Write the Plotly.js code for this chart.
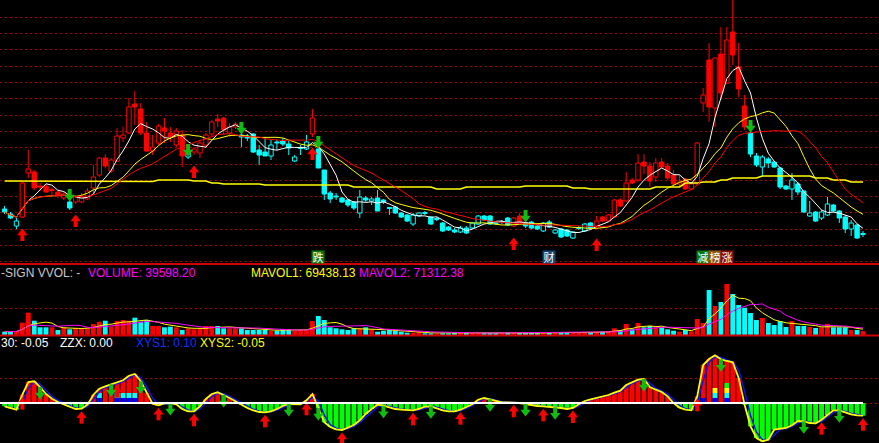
<!DOCTYPE html>
<html><head><meta charset="utf-8">
<script src="https://cdn.plot.ly/plotly-3.0.1.min.js"></script>
<style>html,body{margin:0;padding:0;background:#000;overflow:hidden}#chart{width:879px;height:443px}</style>
</head><body><div id="chart"></div>
<script>
// ---------------- DATA ----------------
const openP = [56,51,39,48,92,93,79,79,74.5,73, 67,63,63,63,66,77,90,107,94,104, 127,132,161,156,132,114,122,137,132,120,
 130,108,113,112,120,131,146,147,132,138, 130,129,131,115,113,109,123,124,121,104, 116.5,116,131,116,95,72,69,67,65,63,
 52,67,64,67,65,57.5,58,52,50,41, 49,52.5,48,45.5,42,38,35,33,37,37, 41,49,49,42.5,42.5,47,39,49,42,43,
 39,34,43,32,36,35,27,36.5,34,42, 39,48,44,48,65,64,85,85,103,99, 88,103,99,90,81,86,76,81,162,205,
 157,211,182,233,198,159,132,109,98,106, 103,97,79,76,81,74,49,53,47,50, 60,54,48,36,40,30.5];
const closeP = [53,47,44,82,96,77,78,73,75.5,70, 71,57,68,68,74,88,107,99,105,129, 130,158,158,132,114,118,139,134,128,134,
 109,112,116,122,130,143,144,135,138,141, 128,127,113,110,109,120,122,121,117,108, 117.5,123,147,97,71,66,68,63,60,57,
 68,65,66,54,63,56.5,52,48,44,50, 52,51.5,41,46.5,34,35,33,37,32,42, 49,45,41,41.5,43.5,40,47,43,39,37,
 36,42,38,35,28,29,33,37.5,41,37, 44,44,50,65,59,82,82,102,99,84, 102,98,87,81,83,76,81,122,170,158,
 207,172,225,210,176,138,111,100,108,102, 98,78,76,85,73,53,52,44,53,61, 54,47,36,42,27,31.5];
const highP = [59,53,47,83,115,95,82,80,78,75, 73,65,70,72,77,100,108,111,107,137, 138,167,174,162,143,130,141,147,138,137,
 135,115,118,125,132,145,151,148,142,143, 135,131,132,120,127,125,125,127,124,110, 120,130,156,128,95,74,72,68,66,64,
 75,69,68,75,66,58,59,53,51,52, 53,54,49,48,43,39,37,39,39,43, 50,50,50,44,45,48,48,52,44,44,
 40,43,45,36,37,36,34,39,42,43, 49,49,51,66,67,93,87,111,111,103, 107,107,102,95,90,87,82,123,177,222,
 207,238,238,265,222,170,137,112,110,108, 104,98,80,92,83,75,64,54,55,68, 61,55,50,45,41,34];
const lowP = [51,46,36,47,87,75,74,72,70,67, 65,55,61,62,65,72,88,97,92,103, 123,131,140,130,113,110,120,122,123,118,
 98,106,110,107,118,129,138,130,128,136, 118,124,112,100,109,105,115,119,110,103, 110,115,128,97,65,62,65,62,58,55,
 47,63,60,54,61,50,51,47,43,39, 48,50,40,44,33,34,32,32,31,36, 40,44,40,40,41,39,38,42,37,36,
 35,33,37,31,27,28,26,35,33,36, 37,43,43,47,58,63,81,83,91,78, 83,97,85,80,78,75,75,80,153,143,
 138,165,181,200,168,135,108,98,89,97, 97,76,75,65,70,52,48,43,45,49, 53,42,32,29,26,28];
const longMA = [84,84,84,84,84,84,84,84,84,84,
 83.5,83.5,83.5,83.5,83.5,83.5,83.5,83.5,83.5,83.5,83.5,83.5,83.5,83.5,83.5,83.5,
 85,85,85,85,85,85, 84,84,84, 82,82, 81,81,81,81,81,81,81,
 80,80,80,80,80,80,80,80,80,80,80,80,80,80,80,
 78,78,78,78,78,78,78,78,78,78,78,78,78,78, 76,76,76,76,76,
 78,78,78,78,78,78,78,78,78,78, 79,79,79,79,79,79,79,79, 77,77,77,
 76,76,76,76,76,76,76,76,76,76,76, 78,78,78,78,78, 82,82,82, 83,83,83, 85,85,
 87,87,87,87,87, 89,89,89,89,89,89,89,89,89, 87,87,87, 85,85,85, 83,83,83];
const volume = [33000,33000,40000,123000,223000,143000,77000,77000,77000,50000,
 77000,57000,70000,70000,70000,110000,133000,143000,83000,140000,
 150000,143000,173000,133000,150000,90000,90000,77000,83000,77000,
 50000,67000,57000,67000,90000,90000,90000,67000,67000,67000,
 67000,50000,50000,50000,50000,43000,43000,57000,57000,43000,
 50000,50000,140000,190000,150000,77000,67000,57000,50000,67000,
 67000,77000,57000,33000,43000,50000,43000,33000,23000,23000,
 33000,17000,17000,17000,17000,17000,23000,23000,23000,20000,
 20000,20000,20000,20000,20000,23000,23000,20000,20000,20000,
 20000,23000,30000,23000,30000,23000,20000,23000,30000,23000,
 30000,33000,40000,67000,50000,110000,57000,120000,77000,90000,
 77000,77000,57000,43000,33000,50000,37000,160000,120000,450000,
 290000,330000,510000,410000,300000,273000,220000,150000,170000,120000,
 100000,140000,80000,140000,90000,90000,80000,70000,77000,110000,
 77000,77000,77000,50000,50000,39598.2];
const indValue = [-3.3,-5.3,-6.7,8.3,21,21.7,16,9,4.3,1,
 -1.3,-4,-6,-5.7,-1.7,8.3,14.3,16.7,18.7,20.3,
 22.7,27.3,29,21.7,10,-0.7,-2.3,-0.3,0,-1.3,
 -6,-8.3,-8.3,-3.3,4,9,10.7,8,5,1.7,
 -1.7,-5,-7.3,-9,-9.3,-8.3,-6,-3,-1,-1.3,
 -1.3,2.7,9,-5,-19.3,-24,-26.3,-27,-24.7,-22,
 -17.3,-11,-6,-1.7,-2.7,-4.7,-6,-6.7,-7,-7.3,
 -6,-3.7,-3.3,-5.3,-7.3,-8.3,-8.3,-6.7,-4,-1.3,
 3.3,5,3.7,2,0.7,0.7,0.7,0,-1,-2.3,
 -3,-3.3,-3.7,-4.3,-5,-6,-5,-1.3,2,3.7,
 5,6.3,8,10.3,12.3,18,21,23.3,24,16,
 13.3,11,6.7,0,-4.7,-6.7,-7.3,6.7,38,44,
 47.7,43.7,42,40.7,25,-1.7,-23.3,-35,-38.3,-36.7,
 -26.7,-26,-25,-22.3,-18,-18.3,-20,-20.3,-16.7,-12,
 -7.3,-7.3,-9.7,-11.3,-12.3,-12.7];
const upSignals = [3,12,32,52,86,100];
const downSignals = [11,31,40,53,88,126];
const indUpArrows = [3,13,19,26,32,44,51,57,69,77,86,91,96,117,129,138,145];
const indDownArrows = [6,18,23,28,37,48,53,64,72,82,88,93,108,121,135,141];
const blockIdx = [16,19,20,21,22,118,120,122];
const blockLevel = [2,2,2,2,2,1,3,4];
const eventIdx = [53,92,118,120,122];
const eventText = ['跌','财','减','榜','涨'];
const eventBg = ['#0c780c','#14467a','#0c780c','#8a5412','#8c0a0a'];
const maPeriods = [5,13,18];
const volLabels = ['-SIGN VVOL: -','VOLUME: 39598.20','MAVOL1: 69438.13','MAVOL2: 71312.38'];
const indLabels = ['30: -0.05','ZZX: 0.00','XYS1: 0.10','XYS2: -0.05'];

// ---------------- DRAWING ----------------
const N = closeP.length;
const RED='#ff0000', CYAN='#00ffff', YEL='#ffff00', MAG='#ff00ff', GRN='#00ff00', ARG='#10bc10';
const W=879, H=443;
function sma(a,n){return a.map((_,i)=>{const s=a.slice(Math.max(0,i-n+1),i+1);return s.reduce((p,q)=>p+q,0)/s.length;});}
const idx = closeP.map((_,i)=>i);
const trend=[]; let st=0;
for(let i=0;i<N;i++){ if(upSignals.includes(i)) st=1; if(downSignals.includes(i)) st=0; trend.push(st); }

const traces=[];
// candle bodies
[[1,true,RED,RED],[1,false,'#000000',RED],[0,true,CYAN,CYAN],[0,false,'#000000',CYAN]].forEach(g=>{
  const xs=[],bs=[],hs=[];
  for(let i=0;i<N;i++){
    const filled = closeP[i]<openP[i];
    if(trend[i]!==g[0]||filled!==g[1]) continue;
    const lo=Math.min(openP[i],closeP[i]), hi=Math.max(openP[i],closeP[i]);
    xs.push(i); bs.push(lo); hs.push(Math.max(hi-lo,1));
  }
  traces.push({type:'bar',x:xs,y:hs,base:bs,width:0.74,marker:{color:g[2],line:{color:g[3],width:1}},xaxis:'x',yaxis:'y',hoverinfo:'skip'});
});
// volume bars
[[true,RED],[false,CYAN]].forEach(g=>{
  const xs=[],ys=[];
  for(let i=0;i<N;i++){ if((closeP[i]>=openP[i])!==g[0]) continue; xs.push(i); ys.push(volume[i]); }
  traces.push({type:'bar',x:xs,y:ys,width:0.82,marker:{color:g[1],line:{width:0}},xaxis:'x',yaxis:'y2',hoverinfo:'skip'});
});
// indicator histogram
[[true,RED],[false,GRN]].forEach(g=>{
  const xs=[],ys=[];
  for(let i=0;i<N;i++){ if((indValue[i]>=0)!==g[0]) continue; xs.push(i); ys.push(indValue[i]); }
  traces.push({type:'bar',x:xs,y:ys,width:0.82,marker:{color:g[1],line:{width:0}},xaxis:'x',yaxis:'y3',hoverinfo:'skip'});
});
// indicator level blocks
['#0000ff',CYAN,YEL,GRN].forEach((c,k)=>{
  const xs=[],ys=[],bs=[];
  blockIdx.forEach((b,j)=>{ if(blockLevel[j]>k){xs.push(b);ys.push(5);bs.push(k*5);} });
  traces.push({type:'bar',x:xs,y:ys,base:bs,width:0.82,marker:{color:c,line:{width:0}},xaxis:'x',yaxis:'y3',hoverinfo:'skip'});
});
// wicks
[[1,RED],[0,CYAN]].forEach(g=>{
  const xs=[],ys=[];
  for(let i=0;i<N;i++){
    if(trend[i]!==g[0]) continue;
    const lo=Math.min(openP[i],closeP[i]), hi=Math.max(openP[i],closeP[i], lo+1);
    if(highP[i]>hi){xs.push(i,i,null);ys.push(highP[i],hi,null);}
    if(lowP[i]<lo){xs.push(i,i,null);ys.push(lo,lowP[i],null);}
  }
  traces.push({type:'scatter',mode:'lines',x:xs,y:ys,line:{color:g[1],width:1},xaxis:'x',yaxis:'y',hoverinfo:'skip'});
});
// price moving averages
traces.push({type:'scatter',mode:'lines',x:idx,y:longMA,line:{color:YEL,width:1.6},xaxis:'x',yaxis:'y',hoverinfo:'skip'});
[['#ffffff'],[YEL],[RED]].forEach((c,k)=>{
  traces.push({type:'scatter',mode:'lines',x:idx,y:sma(closeP,maPeriods[k]),line:{color:c[0],width:1},xaxis:'x',yaxis:'y',hoverinfo:'skip'});
});
// volume averages
traces.push({type:'scatter',mode:'lines',x:idx,y:sma(volume,5),line:{color:YEL,width:1},xaxis:'x',yaxis:'y2',hoverinfo:'skip'});
traces.push({type:'scatter',mode:'lines',x:idx,y:sma(volume,10),line:{color:MAG,width:1},xaxis:'x',yaxis:'y2',hoverinfo:'skip'});
// indicator lines
traces.push({type:'scatter',mode:'lines',x:idx,y:sma(indValue,2),line:{color:'#1010ff',width:1.5},xaxis:'x',yaxis:'y3',hoverinfo:'skip'});
traces.push({type:'scatter',mode:'lines',x:idx,y:indValue,line:{color:YEL,width:1.8},xaxis:'x',yaxis:'y3',hoverinfo:'skip'});

// arrows
function arrows(list, yax, color, up, tipOf){
  const sx=[],sy=[],hx=[],hy=[];
  list.forEach(i=>{
    const t=tipOf(i);
    if(up){ hx.push(i); hy.push(t-5); sx.push(i,i,null); sy.push(t-6,t-13,null); }
    else { hx.push(i); hy.push(t+5); sx.push(i,i,null); sy.push(t+6,t+13,null); }
  });
  traces.push({type:'scatter',mode:'lines',x:sx,y:sy,line:{color:color,width:4},xaxis:'x',yaxis:yax,hoverinfo:'skip'});
  traces.push({type:'scatter',mode:'markers',x:hx,y:hy,marker:{symbol:up?'triangle-up':'triangle-down',size:9,color:color,line:{width:0}},xaxis:'x',yaxis:yax,hoverinfo:'skip'});
}
arrows(upSignals,'y',RED,true,i=>lowP[i]-10);
arrows(downSignals,'y',ARG,false,i=>openP[i]);
arrows(indUpArrows,'y3',RED,true,i=>indValue[i]-2);
arrows(indDownArrows,'y3',ARG,false,i=>indValue[i]-13);

// annotations
const ann=[];
const FONT='Liberation Sans, Arial, sans-serif';
const volX=[0,87,250,358], volC=['#c8c8c8',MAG,YEL,MAG];
volLabels.forEach((t,k)=>ann.push({xref:'paper',yref:'paper',x:volX[k]/W,y:1-273/H,xanchor:'left',yanchor:'middle',text:t,showarrow:false,borderpad:0,font:{family:FONT,size:12,color:volC[k]}}));
const indX=[0,59,135,199], indC=['#ffffff','#ffffff','#1030ff',YEL];
indLabels.forEach((t,k)=>ann.push({xref:'paper',yref:'paper',x:indX[k]/W,y:1-343/H,xanchor:'left',yanchor:'middle',text:t,showarrow:false,borderpad:0,font:{family:FONT,size:12,color:indC[k]}}));
eventIdx.forEach((e,k)=>ann.push({xref:'x',yref:'y',x:e,y:8.5,xanchor:'center',yanchor:'middle',text:eventText[k],showarrow:false,bgcolor:eventBg[k],borderpad:0,width:12,height:12,font:{family:'Noto Sans CJK SC, sans-serif',size:11,color:'#ffffff'}}));

const grid={showgrid:true,gridcolor:'#b40000',griddash:'2px,3px',gridwidth:1,zeroline:false,showticklabels:false,ticks:'',showline:false,fixedrange:true};
const pt=py=>(H-py)/H;
const layout={
  width:W,height:H,margin:{l:0,r:0,t:0,b:0,pad:0},paper_bgcolor:'#000',plot_bgcolor:'#000',showlegend:false,barmode:'overlay',
  xaxis:{range:[-4.6/5.92,(W-4.6)/5.92],showgrid:false,zeroline:false,showticklabels:false,ticks:'',showline:false,fixedrange:true},
  yaxis:Object.assign({domain:[pt(264),1],range:[1,265],tick0:19.5,dtick:16.3},grid),
  yaxis2:Object.assign({domain:[pt(335),pt(264)],range:[0,710000],tickvals:[270000]},grid),
  yaxis3:Object.assign({domain:[0,pt(335)],range:[-40,68],tickvals:[0,25]},grid),
  shapes:[
    {type:'line',xref:'paper',yref:'paper',x0:0,x1:1,y0:pt(264),y1:pt(264),line:{color:'#d00000',width:2}},
    {type:'line',xref:'paper',yref:'paper',x0:0,x1:1,y0:pt(335.5),y1:pt(335.5),line:{color:'#d00000',width:2}},
    {type:'line',xref:'x',yref:'y3',x0:-1,x1:N-1,y0:0,y1:0,line:{color:'#ffffff',width:2}}
  ],
  annotations:ann
};
Plotly.newPlot('chart',traces,layout,{staticPlot:true,displayModeBar:false});
</script></body></html>
